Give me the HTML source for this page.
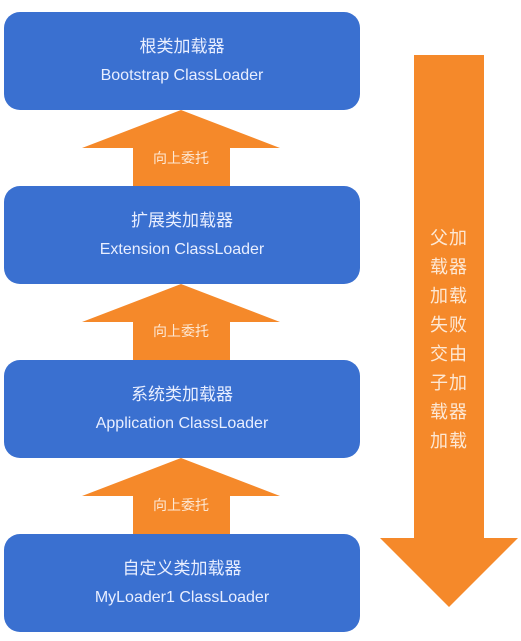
<!DOCTYPE html>
<html><head><meta charset="utf-8"><style>
body{margin:0;background:#fff;width:521px;height:641px;overflow:hidden;font-family:"Liberation Sans","Noto Sans CJK SC",sans-serif}
.b{position:absolute;left:4px;width:356px;height:98px;background:#3a70d0;border-radius:16px;color:#e8eeff;text-align:center;box-sizing:border-box;padding-top:24px}
.b .c{font-size:17px;line-height:22px}
.b .e{font-size:16px;line-height:20px;margin-top:8px}
.t{position:absolute;color:#fde8d4;font-size:14px;width:100px;text-align:center;left:131px}
.v{position:absolute;left:414px;width:70px;top:224px;color:#fde8d4;font-size:18px;text-align:center;line-height:29px;letter-spacing:1px}
</style></head><body>
<svg width="521" height="641" style="position:absolute;left:0;top:0">
<g fill="#f5892a">
<polygon points="181,110 280,148 230,148 230,186 133,186 133,148 82,148"/>
<polygon points="181,284 280,322 230,322 230,360 133,360 133,322 82,322"/>
<polygon points="181,458 280,496 230,496 230,534 133,534 133,496 82,496"/>
<polygon points="414,55 484,55 484,538 518,538 449,607 380,538 414,538"/>
</g></svg>
<div class="b" style="top:12px"><div class="c">根类加载器</div><div class="e">Bootstrap ClassLoader</div></div>
<div class="b" style="top:186px"><div class="c">扩展类加载器</div><div class="e">Extension ClassLoader</div></div>
<div class="b" style="top:360px"><div class="c">系统类加载器</div><div class="e">Application ClassLoader</div></div>
<div class="b" style="top:534px"><div class="c">自定义类加载器</div><div class="e">MyLoader1 ClassLoader</div></div>
<div class="t" style="top:148px">向上委托</div>
<div class="t" style="top:321px">向上委托</div>
<div class="t" style="top:495px">向上委托</div>
<div class="v">父加<br>载器<br>加载<br>失败<br>交由<br>子加<br>载器<br>加载</div>
</body></html>
